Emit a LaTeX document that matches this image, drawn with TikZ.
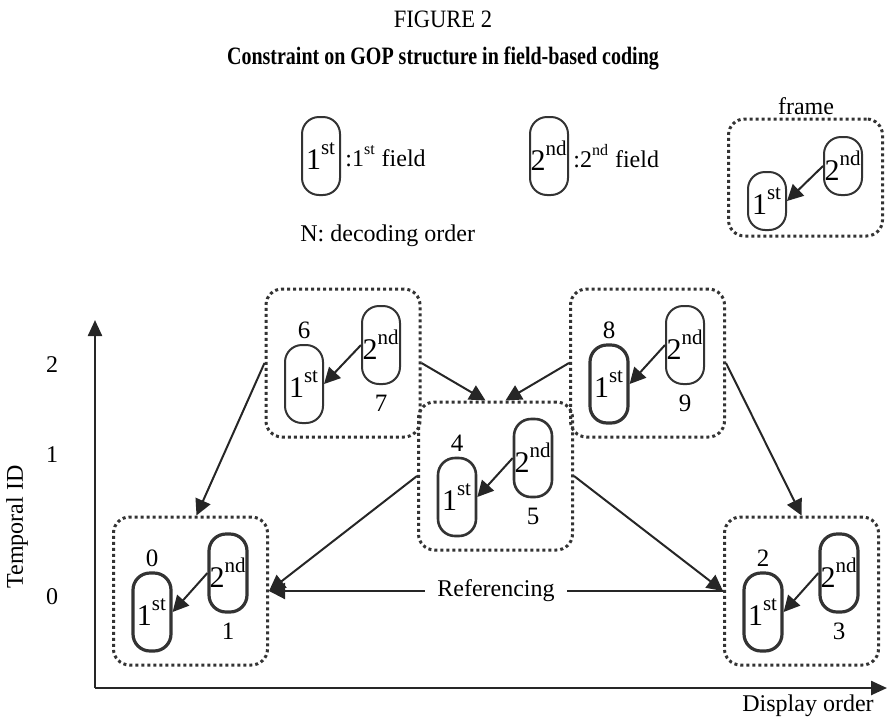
\documentclass[tikz,border=0pt]{standalone}
\usepackage{fontspec}
\setmainfont{Liberation Serif}
\usetikzlibrary{arrows.meta}

\newcommand{\fsup}[1]{\raisebox{0.15em}{\textsuperscript{#1}}}

\tikzset{
  field/.style={draw=black!80, line width=1pt, rounded corners=8.5pt,
    minimum width=19pt, minimum height=39pt, inner sep=0pt,
    font=\fontsize{15}{16}\selectfont},
  fieldbold/.style={field, line width=1.6pt},
  gop/.style={draw=black!80, line width=1.5pt, dash pattern=on 1.5pt off 1.5pt,
    rounded corners=8pt, minimum width=77pt, minimum height=74pt, inner sep=0pt},
  ref/.style={draw=black!85, line width=1pt, -{Triangle[length=8pt,width=8pt]}},
  axis/.style={draw=black!85, line width=1.2pt, -{Triangle[length=8pt,width=7pt]}},
  txt/.style={font=\fontsize{12}{14}\selectfont, inner sep=0pt},
  num/.style={font=\fontsize{12.5}{14}\selectfont, inner sep=0pt},
}

\begin{document}
\begin{tikzpicture}[x=0.5pt,y=-0.5pt]
\useasboundingbox (0,0) rectangle (887,723);

%heading
\node[font=\fontsize{12.5}{14}\selectfont] (fig) at (443,19) {\scalebox{0.9}[1]{FIGURE 2}};
\node[font=\fontsize{12.5}{14}\selectfont\bfseries] (title) at (443,58)
  {\scalebox{0.8}[1]{Constraint on GOP structure in field-based coding}};

%legend
\node[field] (l1) at (321,156) {1\fsup{st}};
\node[txt, anchor=west] (l1t) at ([xshift=2pt]l1.east) {:1\fsup{st} field};
\node[field] (l2) at (549,156) {2\fsup{nd}};
\node[txt, anchor=west] (l2t) at ([xshift=2pt]l2.east) {:2\fsup{nd} field};
\node[txt, anchor=west] (dec) at (300,236) {N: decoding order};
%legend frame
\node[gop, minimum height=58.5pt] (gl) at (805.5,177.5) {};
\node[txt] (fl) at (806,106) {frame};
\node[field, minimum height=29pt] (la) at (767,201) {1\fsup{st}};
\node[field, minimum height=29pt] (lb) at (843,166) {2\fsup{nd}};
\draw[ref] (lb.west) -- (la.east);

%axes
\coordinate (o) at (95,688);
\coordinate (ytop) at (95,320);
\coordinate (xend) at (887,688);
\draw[axis] (o) -- (ytop);
\draw[axis] (o) -- (xend);
\node[txt, rotate=90] (tid) at (17,527) {Temporal ID};
\node[txt] (t2) at (52,365) {2};
\node[txt] (t1) at (52,455) {1};
\node[txt] (t0) at (52,597) {0};
\node[txt] (disp) at (808,706) {Display order};

%frame 6/7
\node[gop] (g6) at (343,363) {};
\node[field] (f6) at (304,384) {1\fsup{st}};
\node[field] (f7) at (381,345) {2\fsup{nd}};
\node[num] (n6) at (304,330) {6};
\node[num] (n7) at (381,403) {7};
\draw[ref] (f7.west) -- (f6.east);
%frame 8/9
\node[gop] (g8) at (647.5,363) {};
\node[fieldbold] (f8) at (609,384) {1\fsup{st}};
\node[field] (f9) at (685,345) {2\fsup{nd}};
\node[num] (n8) at (609,330) {8};
\node[num] (n9) at (685,403) {9};
\draw[ref] (f9.west) -- (f8.east);
%frame 4/5
\node[gop] (g4) at (495.5,476) {};
\node[field, line width=1.3pt] (f4) at (457,497) {1\fsup{st}};
\node[field, line width=1.3pt] (f5) at (533,458) {2\fsup{nd}};
\node[num] (n4) at (457,443) {4};
\node[num] (n5) at (533,516) {5};
\draw[ref] (f5.west) -- (f4.east);
%frame 0/1
\node[gop] (g0) at (190.5,591) {};
\node[fieldbold] (f0) at (152,612) {1\fsup{st}};
\node[fieldbold] (f1) at (228,573) {2\fsup{nd}};
\node[num] (n0) at (152,558) {0};
\node[num] (n1) at (228,631) {1};
\draw[ref] (f1.west) -- (f0.east);
%frame 2/3
\node[gop] (g2) at (801.5,591) {};
\node[fieldbold] (f2) at (763,612) {1\fsup{st}};
\node[fieldbold] (f3) at (839,573) {2\fsup{nd}};
\node[num] (n2) at (763,558) {2};
\node[num] (n3) at (839,631) {3};
\draw[ref] (f3.west) -- (f2.east);

%referencing
\draw[ref] (g6.west) -- ([xshift=3pt]g0.north);
\draw[ref] (g6.east) -- ([xshift=-5pt]g4.north);
\draw[ref] (g8.west) -- ([xshift=5pt]g4.north);
\draw[ref] (g8.east) -- (g2.north);
\draw[ref] (g4.west) -- (g0.east);
\draw[ref] (g4.east) -- (g2.west);
\draw[ref] (g2.west) -- node[txt, fill=white, inner xsep=6pt, inner ysep=2pt] (refl) {Referencing} (g0.east);

\end{tikzpicture}
\end{document}
